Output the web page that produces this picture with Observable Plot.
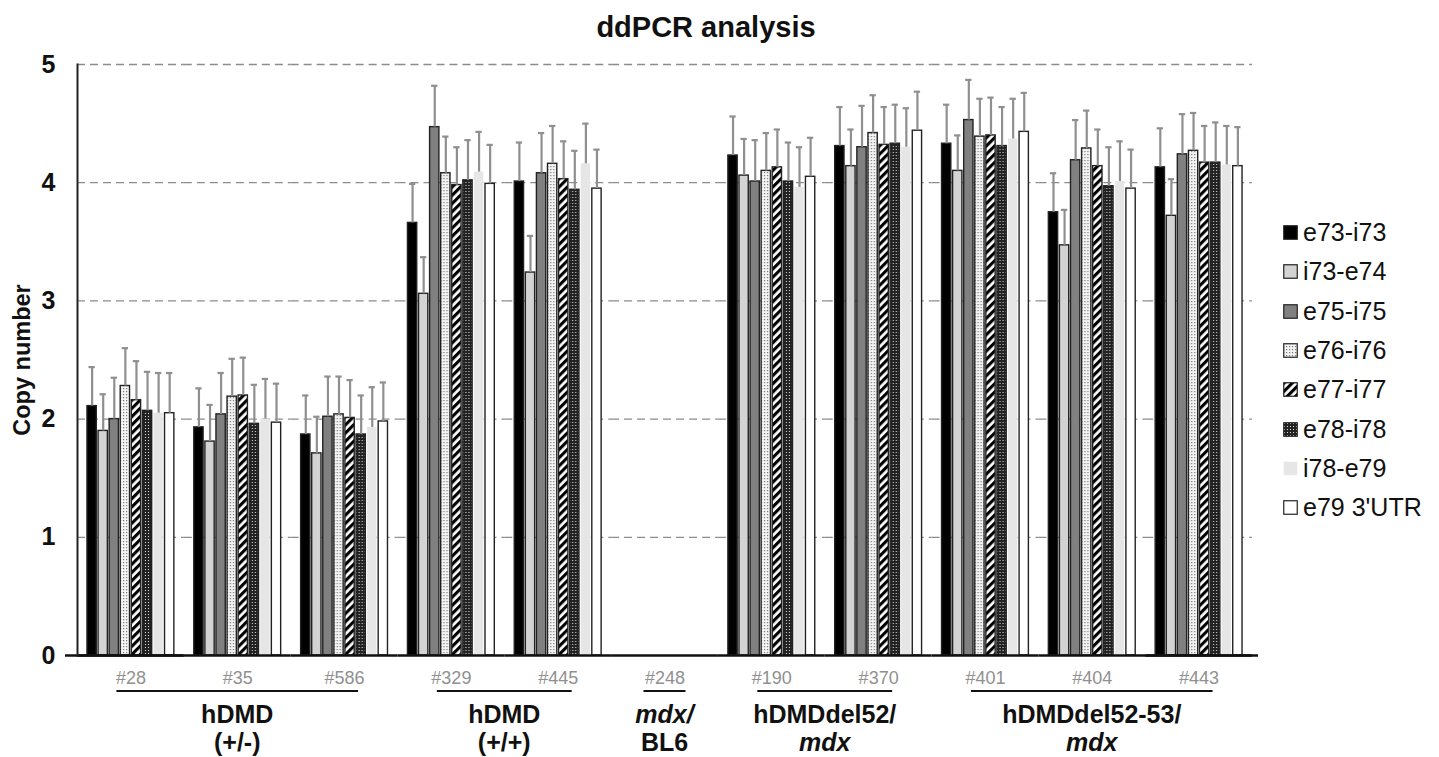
<!DOCTYPE html>
<html>
<head>
<meta charset="utf-8">
<script src="https://cdn.jsdelivr.net/npm/d3@7"></script>
<script src="https://cdn.jsdelivr.net/npm/@observablehq/plot@0.6"></script>
<style>
html, body { margin: 0; padding: 0; background: #fff; }
body { width: 1439px; height: 757px; position: relative; overflow: hidden; font-family: "Liberation Sans", Arial, sans-serif; }
#title { height: 46px; line-height: 54px; text-align: center; font-weight: bold; font-size: 29px; padding-right: 27px; color: #111; }
#chart svg { overflow: visible; display: block; }
g[aria-label="y-axis tick label"] { font-size: 25px; font-weight: bold; }
g[aria-label="y-axis label"] { font-size: 23.5px; font-weight: bold; }
g[aria-label="fx-axis tick label"] { font-size: 18px; fill: #909090; }
.grp text { font-size: 25px; font-weight: bold; fill: #111; }
#legend { position: absolute; left: 1283px; top: 213px; }
.li { height: 39.3px; display: flex; align-items: center; font-size: 25px; color: #111; white-space: nowrap; }
.li svg { margin-right: 5px; display: block; }
</style>
</head>
<body>
<svg width="0" height="0" style="position:absolute">
  <defs>
    <pattern id="pat-dots" width="3" height="3" patternUnits="userSpaceOnUse">
      <rect width="3" height="3" fill="#f4f4f4"></rect>
      <rect width="1.2" height="1.2" fill="#777"></rect>
    </pattern>
    <pattern id="pat-stripes" width="5.8" height="5.8" patternUnits="userSpaceOnUse" patternTransform="rotate(45)">
      <rect width="5.8" height="5.8" fill="#fff"></rect>
      <rect width="3.1" height="5.8" fill="#000"></rect>
    </pattern>
    <pattern id="pat-checks" width="3" height="3" patternUnits="userSpaceOnUse">
      <rect width="3" height="3" fill="#222"></rect>
      <rect x="1" y="1" width="1" height="1" fill="#ddd"></rect>
    </pattern>
  </defs>
</svg>
<div id="title">ddPCR analysis</div>
<div id="chart"></div>
<div id="legend"></div>
<script>
// ---- data ----
const samples = ["#28", "#35", "#586", "#329", "#445", "#248", "#190", "#370", "#401", "#404", "#443"];
const seriesNames = ["e73-i73", "i73-e74", "e75-i75", "e76-i76", "e77-i77", "e78-i78", "i78-e79", "e79 3'UTR"];
const seriesFills = ["#000000", "#d3d3d3", "#808080", "url(#pat-dots)", "url(#pat-stripes)", "url(#pat-checks)", "#e6e6e6", "#ffffff"];
const yTicks = [0, 1, 2, 3, 4, 5];

// mean copy number per sample (#248 = mdx/BL6 has no human copies)
const e73_i73 = [2.11, 1.93, 1.87, 3.66, 4.01, 0, 4.23, 4.31, 4.33, 3.75, 4.13];
const i73_e74 = [1.90, 1.81, 1.71, 3.06, 3.24, 0, 4.06, 4.14, 4.10, 3.47, 3.72];
const e75_i75 = [2.00, 2.04, 2.02, 4.47, 4.08, 0, 4.01, 4.30, 4.53, 4.19, 4.24];
const e76_i76 = [2.28, 2.19, 2.04, 4.08, 4.16, 0, 4.10, 4.42, 4.39, 4.29, 4.27];
const e77_i77 = [2.16, 2.20, 2.01, 3.98, 4.03, 0, 4.13, 4.32, 4.40, 4.14, 4.17];
const e78_i78 = [2.07, 1.96, 1.87, 4.02, 3.94, 0, 4.01, 4.33, 4.31, 3.97, 4.17];
const i78_e79 = [2.05, 2.00, 1.93, 4.09, 4.16, 0, 3.96, 4.30, 4.37, 4.01, 4.15];
const e79_utr = [2.05, 1.97, 1.98, 3.99, 3.95, 0, 4.05, 4.44, 4.43, 3.95, 4.14];

// upper error (SD) per sample (null = no error bar)
const e73_i73_err = [0.33, 0.33, 0.33, 0.33, 0.33, null, 0.33, 0.33, 0.33, 0.33, 0.33];
const i73_e74_err = [0.31, 0.31, 0.31, 0.31, 0.31, null, 0.31, 0.31, 0.30, 0.30, 0.31];
const e75_i75_err = [0.35, 0.35, 0.34, 0.35, 0.34, null, 0.35, 0.35, 0.34, 0.34, 0.34];
const e76_i76_err = [0.32, 0.32, 0.32, 0.31, 0.32, null, 0.32, 0.32, 0.32, 0.32, 0.32];
const e77_i77_err = [0.33, 0.32, 0.32, 0.32, 0.32, null, 0.32, 0.32, 0.32, 0.31, 0.31];
const e78_i78_err = [0.33, 0.33, 0.33, 0.34, 0.33, null, 0.33, 0.33, 0.33, 0.33, 0.34];
const i78_e79_err = [0.34, 0.34, 0.34, 0.34, 0.34, null, 0.34, 0.33, 0.34, 0.34, 0.33];
const e79_utr_err = [0.34, 0.33, 0.33, 0.33, 0.33, null, 0.33, 0.33, 0.33, 0.33, 0.33];

// sample groups (bottom annotation)
const groupFirst = ["#28", "#329", "#248", "#190", "#401"];
const groupLast = ["#586", "#445", "#248", "#370", "#443"];
const groupLine1 = ["hDMD", "hDMD", "mdx/", "hDMDdel52/", "hDMDdel52-53/"];
const groupLine2 = ["(+/-)", "(+/+)", "BL6", "mdx", "mdx"];
const groupLine1Italic = [false, false, true, false, false];
const groupLine2Italic = [false, false, false, true, true];

// ---- table ----
const seriesValues = [e73_i73, i73_e74, e75_i75, e76_i76, e77_i77, e78_i78, i78_e79, e79_utr];
const seriesErrors = [e73_i73_err, i73_e74_err, e75_i75_err, e76_i76_err, e77_i77_err, e78_i78_err, i78_e79_err, e79_utr_err];
const rows = [];
samples.forEach((s, i) => {
  seriesNames.forEach((name, k) => {
    const v = seriesValues[k][i];
    const e = seriesErrors[k][i];
    rows.push({sample: s, series: name, value: v, top: e == null ? null : v + e});
  });
});
const outlined = rows.filter(d => d.series !== "i78-e79" && d.value > 0);
const plain = rows.filter(d => d.series === "i78-e79" && d.value > 0);
const errRows = rows.filter(d => d.top != null);
const errColor = "#8f8f8f";

const chart = Plot.plot({
  width: 1439,
  height: 711,
  marginTop: 18,
  marginBottom: 102,
  marginLeft: 77,
  marginRight: 187,
  style: {fontFamily: '"Liberation Sans", Arial, sans-serif', color: "#111", background: "transparent"},
  fx: {domain: samples, padding: 0, round: false, axis: "bottom", tickSize: 0, tickPadding: 16, label: null},
  x: {domain: seriesNames, axis: null, round: false, paddingInner: 0.16, paddingOuter: 0.9},
  y: {domain: [0, 5], ticks: yTicks, tickSize: 0, tickPadding: 22, label: "Copy number", labelAnchor: "center", labelOffset: 64, labelArrow: "none", tickFormat: d3.format("d")},
  color: {domain: seriesNames, range: seriesFills, type: "ordinal"},
  marks: [
    Plot.gridY(yTicks.filter(t => t > 0), {stroke: "#8c8c8c", strokeOpacity: 1, strokeWidth: 1.3, strokeDasharray: "8,5"}),
    Plot.barY(rows, {fx: "sample", x: "series", y: "value", fill: "none"}),
    Plot.barY(outlined, {fx: "sample", x: "series", y: "value", fill: "series", stroke: "#222", strokeWidth: 1.4}),
    Plot.barY(plain, {fx: "sample", x: "series", y: "value", fill: "series"}),
    Plot.ruleX(errRows, {fx: "sample", x: "series", y1: "value", y2: "top", stroke: errColor, strokeWidth: 2.2}),
    Plot.tickY(errRows, {fx: "sample", x: "series", y: "top", stroke: errColor, strokeWidth: 2.2, insetLeft: 1.5, insetRight: 1.5}),
    Plot.ruleY([0], {stroke: "#111", strokeWidth: 2.5}),
    Plot.ruleY([0], {stroke: "#111", strokeWidth: 2.5, facetAnchor: "left", insetLeft: -12}),
    Plot.ruleY([0], {stroke: "#111", strokeWidth: 2.5, facetAnchor: "right", insetRight: -6}),
    Plot.frame({anchor: "left", facetAnchor: "left", stroke: "#222", strokeWidth: 2})
  ]
});
document.getElementById("chart").appendChild(chart);

// ---- group annotations, placed with the plot's own scales ----
const fxs = chart.scale("fx");
const ys = chart.scale("y");
const base = ys.apply(0);
const center = s => fxs.apply(s) + fxs.bandwidth / 2;
const ann = d3.select(chart).append("g").attr("class", "grp").attr("aria-label", "group annotations");
groupFirst.forEach((first, i) => {
  const last = groupLast[i];
  const pad = first === last ? 21 : 14;
  const x1 = center(first) - pad, x2 = center(last) + pad;
  const cx = (center(first) + center(last)) / 2;
  ann.append("line").attr("x1", x1).attr("x2", x2).attr("y1", base + 36).attr("y2", base + 36)
    .attr("stroke", "#111").attr("stroke-width", 2);
  ann.append("text").attr("x", cx).attr("y", base + 68).attr("text-anchor", "middle")
    .attr("font-style", groupLine1Italic[i] ? "italic" : "normal").text(groupLine1[i]);
  ann.append("text").attr("x", cx).attr("y", base + 96).attr("text-anchor", "middle")
    .attr("font-style", groupLine2Italic[i] ? "italic" : "normal").text(groupLine2[i]);
});

// ---- legend ----
const legend = d3.select("#legend");
seriesNames.forEach((name, k) => {
  const row = legend.append("div").attr("class", "li");
  const sw = row.append("svg").attr("width", 15).attr("height", 15);
  sw.append("rect").attr("x", 0.75).attr("y", 0.75).attr("width", 13.5).attr("height", 13.5)
    .attr("fill", seriesFills[k]).attr("stroke", name === "i78-e79" ? "none" : "#222").attr("stroke-width", 1.2);
  row.append("span").text(name);
});
</script>
</body>
</html>
